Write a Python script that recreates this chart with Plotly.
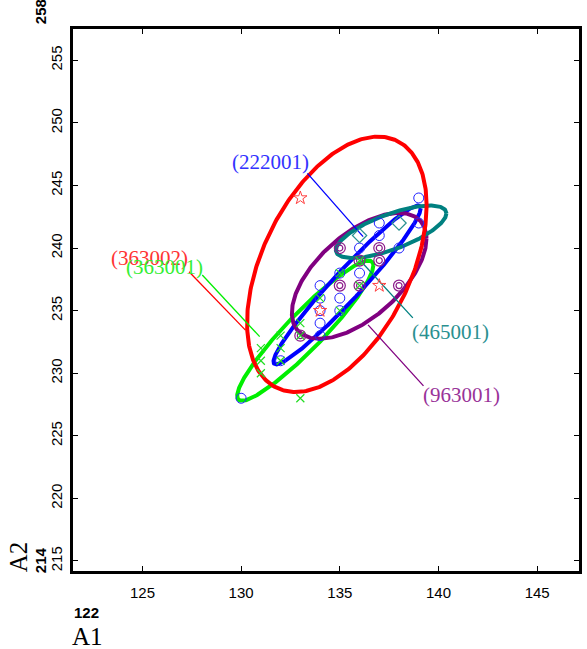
import numpy as np
import plotly.graph_objects as go

# ---- data ----
blue_x = [139, 139, 137, 137, 136, 138, 136, 135, 134, 134, 135, 134, 135, 134, 134, 132, 130]
blue_y = [244, 242, 242, 241, 240, 240, 238, 238, 237, 236, 236, 235, 235, 234, 233, 231, 228]
red_x = [133, 137, 134]
red_y = [244, 237, 235]
green_x = [135, 136, 136, 135, 134, 133, 133, 132, 132, 132, 131, 131, 131, 133]
green_y = [238, 239, 237, 235, 236, 234, 233, 233, 232, 231, 232, 231, 230, 228]
teal_x = [136, 138]
teal_y = [241, 242]
purple_x = [135, 137, 136, 137, 135, 136, 138, 133]
purple_y = [240, 240, 239, 239, 237, 237, 237, 233]

# ellipse parameters: centre x, centre y, half-range x, half-range y, correlation
ell_names = ["green", "blue", "purple", "teal", "red"]
ell_cx = [133.25, 135.37, 135.98, 137.6, 134.85]
ell_cy = [233.4, 237.05, 237.78, 241.3, 238.7]
ell_ax = [3.45, 3.73, 3.41, 2.8, 4.55]
ell_by = [5.6, 6.35, 5.03, 2.1, 10.2]
ell_rho = [0.93, 0.965, 0.59, 0.7, 0.46]
ell_col = ["#00ee00", "#0000ff", "#800080", "#008080", "#ff0000"]

# labels
lab_text = ["(222001)", "(363002)", "(363001)", "(465001)", "(963001)"]
lab_x = [131.48, 125.38, 126.1, 140.6, 141.15]
lab_y = [246.9, 239.19, 238.5, 233.3, 228.27]
lab_col = ["#3333ff", "#ff3333", "#33ee33", "#2a9090", "#993399"]
lead_x0 = [133.36, 127.36, 128.03, 136.01, 136.43]
lead_y0 = [245.97, 238.11, 237.85, 239.05, 233.86]
lead_x1 = [136.18, 130.22, 130.94, 138.70, 139.24]
lead_y1 = [240.91, 233.44, 232.92, 234.42, 228.99]
lead_col = ["#0000ff", "#ff0000", "#00ee00", "#008080", "#800080"]

x_range = [121.48, 147.12]
y_range = [214.2, 257.5]

W, H = 587, 649
ML, MR, MT, MB = 73, 5, 29, 78


def px2paper(px, py):
    return (px - ML) / (W - ML - MR), (H - MB - py) / (H - MT - MB)


fig = go.Figure()

t = np.linspace(0, 2 * np.pi, 361)
for cx, cy, a, b, r, c in zip(ell_cx, ell_cy, ell_ax, ell_by, ell_rho, ell_col):
    d = np.arccos(r)
    fig.add_trace(go.Scatter(x=cx + a * np.cos(t), y=cy + b * np.cos(t + d),
                             mode="lines", line=dict(color=c, width=4),
                             hoverinfo="skip", showlegend=False))

for x0, y0, x1, y1, c in zip(lead_x0, lead_y0, lead_x1, lead_y1, lead_col):
    fig.add_trace(go.Scatter(x=[x0, x1], y=[y0, y1], mode="lines",
                             line=dict(color=c, width=1.3), hoverinfo="skip",
                             showlegend=False))

fig.add_trace(go.Scatter(x=blue_x, y=blue_y, mode="markers", showlegend=False,
                         marker=dict(symbol="circle-open", size=10, color="#2222ff",
                                     line=dict(color="#2222ff", width=1))))
fig.add_trace(go.Scatter(x=purple_x, y=purple_y, mode="markers", showlegend=False,
                         marker=dict(symbol="circle-open", size=11, color="#8b1a8b",
                                     line=dict(color="#8b1a8b", width=1.2))))
fig.add_trace(go.Scatter(x=purple_x, y=purple_y, mode="markers", showlegend=False,
                         marker=dict(symbol="circle-open", size=6, color="#8b1a8b",
                                     line=dict(color="#8b1a8b", width=1.2))))
fig.add_trace(go.Scatter(x=green_x, y=green_y, mode="markers", showlegend=False,
                         marker=dict(symbol="x-thin-open", size=8, color="#22dd22",
                                     line=dict(color="#22dd22", width=1.2))))
fig.add_trace(go.Scatter(x=teal_x, y=teal_y, mode="markers", showlegend=False,
                         marker=dict(symbol="diamond-open", size=11, color="#2a9090",
                                     line=dict(color="#2a9090", width=1.2))))
fig.add_trace(go.Scatter(x=red_x, y=red_y, mode="markers", showlegend=False,
                         marker=dict(symbol="star-open", size=10, color="#ff4040",
                                     line=dict(color="#ff4040", width=1))))

for tx, x, y, c in zip(lab_text, lab_x, lab_y, lab_col):
    fig.add_annotation(x=x, y=y, xref="x", yref="y", text=tx, showarrow=False,
                       font=dict(family="Liberation Serif", size=21, color=c))

# axis extras (positions in page pixels converted to paper coords)
extras = [
    ("A1", 88, 636, 0, "Liberation Serif", 25),
    ("<b>122</b>", 87, 612, 0, "Liberation Sans", 15),
    ("A2", 18, 557, -90, "Liberation Serif", 25),
    ("<b>214</b>", 40, 560, -90, "Liberation Sans", 15),
    ("<b>258</b>", 40, 12, -90, "Liberation Sans", 15),
]
for txt, px, py, ang, fam, sz in extras:
    xp, yp = px2paper(px, py)
    fig.add_annotation(x=xp, y=yp, xref="paper", yref="paper", text=txt,
                       showarrow=False, textangle=ang,
                       font=dict(family=fam, size=sz, color="black"),
                       xanchor="center", yanchor="middle")

axis_common = dict(showgrid=False, zeroline=False, showline=True, linecolor="black",
                   linewidth=3, mirror="ticks", ticks="inside", ticklen=5, tickwidth=1,
                   tickcolor="black", dtick=5, tick0=0,
                   tickfont=dict(family="Liberation Sans", size=15, color="black"))
fig.update_xaxes(range=x_range, ticklabelstandoff=6, **axis_common)
fig.update_yaxes(range=y_range, tickangle=-90, ticklabelstandoff=2, **axis_common)

fig.update_layout(width=W, height=H, margin=dict(l=ML, r=MR, t=MT, b=MB),
                  plot_bgcolor="white", paper_bgcolor="white", showlegend=False)

fig.write_html("out.html")
